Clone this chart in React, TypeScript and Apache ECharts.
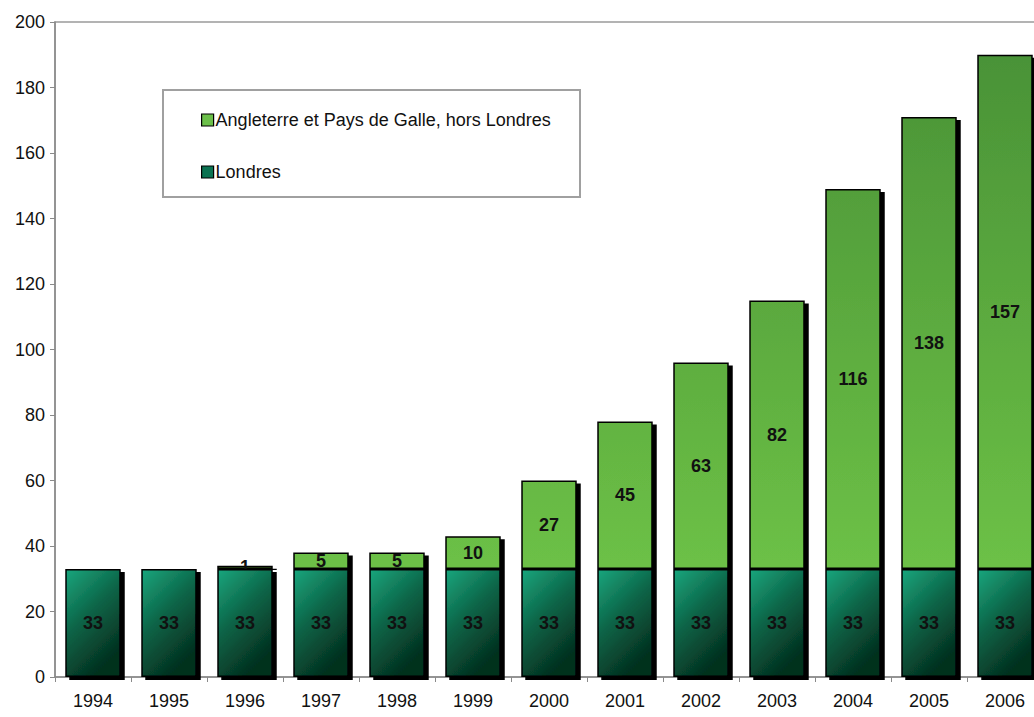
import React, { useEffect, useRef } from "react";
import * as echarts from "echarts";

const years = ["1994","1995","1996","1997","1998","1999","2000","2001","2002","2003","2004","2005","2006"];
const londres = [33,33,33,33,33,33,33,33,33,33,33,33,33];
const horsLondres = [0,0,1,5,5,10,27,45,63,82,116,138,157];
const nameHors = "Angleterre et Pays de Galle, hors Londres";
const nameLondres = "Londres";

const FONT = "'Liberation Sans', Arial, sans-serif";

export default function App() {
  const ref = useRef<HTMLDivElement>(null);
  useEffect(() => {
    if (!ref.current) return;
    const chart = echarts.init(ref.current, undefined, { renderer: "svg" });
    const labelStyle = {
      show: true,
      position: "inside",
      color: "#111",
      fontWeight: "bold",
      fontSize: 18,
      fontFamily: FONT,
    };
    chart.setOption({
      animation: false,
      backgroundColor: "#fff",
      textStyle: { fontFamily: FONT },
      grid: {
        left: 55, top: 22, bottom: 40, right: 2,
        show: true, borderColor: "#9a9a9a", borderWidth: 1.5,
      },
      graphic: [
        {
          type: "rect", z: 100,
          shape: { x: 163, y: 90, width: 417, height: 107 },
          style: { fill: "#fff", stroke: "#a0a0a0", lineWidth: 2 },
        },
      ],
      legend: {
        z: 200,
        orient: "vertical",
        left: 196, top: 106,
        itemWidth: 12, itemHeight: 12,
        itemGap: 34,
        icon: "rect",
        textStyle: { fontSize: 18, color: "#111", fontFamily: FONT, padding: [0, 0, 0, -3] },
        data: [
          { name: nameHors, itemStyle: { color: "#6cc04a", borderColor: "#000", borderWidth: 1.2 } },
          { name: nameLondres, itemStyle: { color: "#0b7352", borderColor: "#000", borderWidth: 1.2 } },
        ],
      },
      xAxis: {
        type: "category",
        data: years,
        axisLine: { lineStyle: { color: "#8a8a8a", width: 1.5 } },
        axisTick: { show: true, length: 5, lineStyle: { color: "#8a8a8a" } },
        axisLabel: { fontSize: 18, color: "#111", margin: 15, fontFamily: FONT },
      },
      yAxis: {
        type: "value",
        min: 0, max: 200, interval: 20,
        axisLine: { show: true, lineStyle: { color: "#8a8a8a", width: 1.5 } },
        axisTick: { show: true, length: 5, lineStyle: { color: "#8a8a8a" } },
        splitLine: { show: false },
        axisLabel: { fontSize: 18, color: "#111", margin: 10, fontFamily: FONT },
      },
      series: [
        {
          name: nameLondres,
          type: "bar",
          stack: "total",
          data: londres,
          barWidth: "73%",
          z: 3,
          itemStyle: {
            color: {
              type: "linear", x: 0, y: 0, x2: 0.5, y2: 1,
              colorStops: [
                { offset: 0, color: "#1aa67d" },
                { offset: 0.5, color: "#0c6447" },
                { offset: 1, color: "#04301f" },
              ],
            },
            borderColor: "#000",
            borderWidth: 1.5,
            shadowColor: "#000",
            shadowBlur: 0,
            shadowOffsetX: 4,
            shadowOffsetY: 3,
          },
          label: { ...labelStyle, formatter: (p: any) => (p.value ? String(p.value) : "") },
        },
        {
          name: nameHors,
          type: "bar",
          stack: "total",
          data: horsLondres,
          barWidth: "73%",
          z: 2,
          itemStyle: {
            color: {
              type: "linear", global: true, x: 0, y: 60, x2: 0, y2: 560,
              colorStops: [
                { offset: 0, color: "#4a9337" },
                { offset: 1, color: "#6cc046" },
              ],
            },
            borderColor: "#000",
            borderWidth: 1.5,
            shadowColor: "#000",
            shadowBlur: 0,
            shadowOffsetX: 4,
            shadowOffsetY: 3,
          },
          label: { ...labelStyle, formatter: (p: any) => (p.value ? String(p.value) : "") },
        },
      ],
    });
    return () => chart.dispose();
  }, []);
  return (
    <div
      ref={ref}
      style={{ position: "fixed", left: 0, top: 0, width: 1045, height: 717, background: "#fff" }}
    />
  );
}
